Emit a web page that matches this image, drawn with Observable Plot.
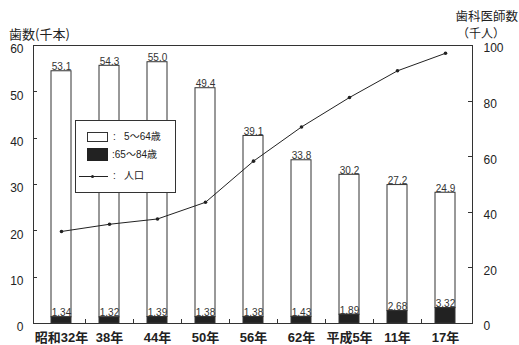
<!DOCTYPE html>
<html><head><meta charset="utf-8">
<script src="https://cdn.jsdelivr.net/npm/d3@7"></script>
<script src="https://cdn.jsdelivr.net/npm/@observablehq/plot@0.6"></script>
<style>
body{margin:0;background:#fff;}
#wrap{position:relative;width:519px;height:345px;overflow:hidden;font-family:"Liberation Sans","Noto Sans CJK JP",sans-serif;color:#222;}
.t{position:absolute;font-family:"Noto Sans CJK JP",sans-serif;white-space:nowrap;line-height:1;color:#222;}
#legend{position:absolute;left:75px;top:120px;width:99px;height:71px;border:1px solid #333;background:#fff;font-size:10px;}
#legend span{position:absolute;font-family:"Liberation Sans","Noto Sans CJK JP",sans-serif;white-space:nowrap;line-height:1;}
</style></head><body>
<div id="wrap">
  <div class="t" style="left:9px;top:27px;font-size:13px;">歯数(千本)</div>
  <div class="t" style="right:1px;top:10px;font-size:12.5px;">歯科医師数</div>
  <div class="t" style="left:457px;top:27px;font-size:12px;">（千人）</div>
</div>
<script>
const categories = ["昭和32年","38年","44年","50年","56年","62年","平成5年","11年","17年"];
const young = [53.1, 54.3, 55.0, 49.4, 39.1, 33.8, 30.2, 27.2, 24.9];
const old = [1.34, 1.32, 1.39, 1.38, 1.38, 1.43, 1.89, 2.68, 3.32];
const dentists = [33.1, 35.7, 37.6, 43.6, 58.4, 70.7, 81.3, 90.9, 97.2];
const leftTicks = [0, 10, 20, 30, 40, 50, 60];
const rightTicks = [0, 20, 40, 60, 80, 100];
const leftMax = 60, rightMax = 100;
const k = leftMax / rightMax;

function innerTicks(index, scales, values, dimensions) {
  const {marginLeft, marginRight, marginBottom, width, height} = dimensions;
  const x = scales.x, y = scales.y;
  const L = marginLeft, R = width - marginRight, B = height - marginBottom;
  const g = d3.create("svg:g").attr("stroke", "#333").attr("stroke-width", 1).attr("fill", "none");
  for (const v of leftTicks) {
    const yy = Math.round(y(v)) + 0.5;
    g.append("line").attr("x1", L).attr("x2", L + 4).attr("y1", yy).attr("y2", yy);
  }
  for (const v of rightTicks) {
    const yy = Math.round(y(v * k)) + 0.5;
    g.append("line").attr("x1", R - 4).attr("x2", R).attr("y1", yy).attr("y2", yy);
  }
  const bw = x.bandwidth();
  for (let i = 0; i < categories.length - 1; i++) {
    const xx = Math.round((x(categories[i]) + x(categories[i + 1]) + bw) / 2) + 0.5;
    g.append("line").attr("x1", xx).attr("x2", xx).attr("y1", B).attr("y2", B - 4);
  }
  return g.node();
}

const plot = Plot.plot({
  width: 519,
  height: 345,
  marginTop: 45,
  marginBottom: 22,
  marginLeft: 33,
  marginRight: 47,
  style: {fontFamily: "'Liberation Sans','Noto Sans CJK JP',sans-serif", fontSize: "12px", color: "#222", background: "transparent"},
  x: {domain: categories, paddingInner: 0.59, paddingOuter: 0.295},
  y: {domain: [0, leftMax]},
  marks: [
    Plot.barY(categories, {x: d => d, y1: (d, i) => old[i], y2: (d, i) => old[i] + young[i], fill: "#fff", stroke: "#333", strokeWidth: 1}),
    Plot.barY(categories, {x: d => d, y1: 0, y2: (d, i) => old[i], fill: "#222", stroke: "#333", strokeWidth: 1}),
    Plot.text(categories, {x: d => d, y: (d, i) => old[i] + young[i], text: (d, i) => young[i].toFixed(1), lineAnchor: "bottom", dy: -1, fontSize: 10, fill: "#333"}),
    Plot.text(categories, {x: d => d, y: (d, i) => old[i], text: (d, i) => old[i].toFixed(2), lineAnchor: "bottom", dy: -1, fontSize: 10, fill: "#333"}),
    Plot.line(categories, {x: d => d, y: (d, i) => dentists[i] * k, stroke: "#222", strokeWidth: 1}),
    Plot.dot(categories, {x: d => d, y: (d, i) => dentists[i] * k, r: 1.8, fill: "#222", stroke: null}),
    Plot.frame({stroke: "#333", strokeWidth: 1}),
    innerTicks,
    Plot.axisY(leftTicks, {anchor: "left", tickSize: 0, tickPadding: 10, dy: 4, label: null, fontSize: 12}),
    Plot.axisY(rightTicks.map(v => v * k), {anchor: "right", tickSize: 0, tickPadding: 11, dy: 3, label: null, fontSize: 12, tickFormat: v => String(Math.round(v / k))}),
    Plot.axisX({anchor: "bottom", tickSize: 0, tickPadding: 9, label: null, fontSize: 13, fontWeight: "bold"})
  ]
});
plot.style.position = "absolute";
plot.style.left = "0";
plot.style.top = "0";
const wrap = document.getElementById("wrap");
wrap.insertBefore(plot, wrap.firstChild);

const legend = document.createElement("div");
legend.id = "legend";
legend.innerHTML = `
  <div style="position:absolute;left:11px;top:11px;width:19px;height:8px;border:1px solid #333;background:#fff"></div>
  <span style="left:37px;top:11px;">:&nbsp;&nbsp;&nbsp;5～64歳</span>
  <div style="position:absolute;left:11px;top:27px;width:21px;height:13px;background:#222"></div>
  <span style="left:36px;top:29px;">:65～84歳</span>
  <div style="position:absolute;left:3px;top:55px;width:29px;height:1px;background:#222"></div>
  <div style="position:absolute;left:15px;top:54px;width:3px;height:3px;border-radius:50%;background:#222"></div>
  <span style="left:37px;top:50px;">:&nbsp;&nbsp;&nbsp;人口</span>
`;
wrap.appendChild(legend);
</script>
</body></html>
